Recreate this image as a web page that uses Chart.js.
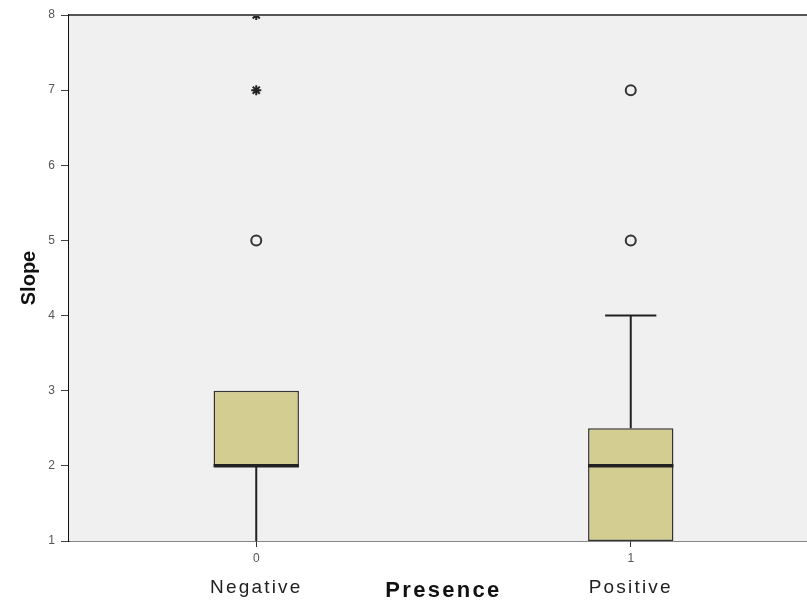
<!DOCTYPE html>
<html>
<head>
<meta charset="utf-8">
<script src="https://cdn.jsdelivr.net/npm/chart.js@4"></script>
<style>
  html, body { margin: 0; padding: 0; background: #fff; overflow: hidden; }
  #wrap { width: 825px; height: 604px; }
</style>
</head>
<body>
<div id="wrap"><canvas id="slopeChart"></canvas></div>
<script>
const categories = ["Negative", "Positive"];
const codes = ["0", "1"];
const q1 = [2, 1];
const median = [2, 2];
const q3 = [3, 2.5];
const whiskerLow = [1, 1];
const whiskerHigh = [3, 4];
const outliers = [[5], [5, 7]];   // circles
const extremes = [[7, 8], []];    // stars
const yTicks = [1, 2, 3, 4, 5, 6, 7, 8];
const xTitle = "Presence";

const boxColor = "#d3cd91";
const lineColor = "#222";
const fontFamily = "'Liberation Sans', Arial, sans-serif";

function toPoints(groups) {
    const pts = [];
    groups.forEach((vals, i) => vals.forEach(v => pts.push({ x: categories[i], y: v })));
    return pts;
}

const boxPlot = {
    id: "boxPlot",
    beforeDatasetsDraw(chart) {
        const { ctx, chartArea: a } = chart;
        ctx.save();
        ctx.fillStyle = "#f0f0f0";
        ctx.fillRect(a.left, a.top, a.right - a.left, a.bottom - a.top);
        ctx.restore();
    },
    afterDatasetDraw(chart, args) {
        if (args.index !== 0) return;
        const { ctx, scales: { x, y } } = chart;
        const bars = chart.getDatasetMeta(0).data;
        ctx.save();
        ctx.strokeStyle = lineColor;
        categories.forEach((c, i) => {
            const cx = x.getPixelForValue(i);
            const w = bars[i].width;
            const cap = w * 0.3;
            ctx.lineWidth = 2;
            ctx.beginPath();
            ctx.moveTo(cx, y.getPixelForValue(q1[i]));
            ctx.lineTo(cx, y.getPixelForValue(whiskerLow[i]));
            ctx.moveTo(cx, y.getPixelForValue(q3[i]));
            ctx.lineTo(cx, y.getPixelForValue(whiskerHigh[i]));
            if (whiskerHigh[i] > q3[i]) {
                ctx.moveTo(cx - cap, y.getPixelForValue(whiskerHigh[i]));
                ctx.lineTo(cx + cap, y.getPixelForValue(whiskerHigh[i]));
            }
            ctx.stroke();
            ctx.lineWidth = 3.5;
            ctx.beginPath();
            ctx.moveTo(cx - w / 2, y.getPixelForValue(median[i]));
            ctx.lineTo(cx + w / 2, y.getPixelForValue(median[i]));
            ctx.stroke();
        });
        ctx.restore();
    },
    afterDraw(chart) {
        const { ctx, chartArea: a, scales: { x } } = chart;
        ctx.save();
        ctx.strokeStyle = "#555";
        ctx.lineWidth = 2;
        ctx.beginPath();
        ctx.moveTo(a.left, a.top);
        ctx.lineTo(a.right, a.top);
        ctx.stroke();

        // category names and axis title, a bit letter-spaced like the original
        ctx.fillStyle = "#222";
        ctx.textAlign = "center";
        ctx.textBaseline = "middle";
        ctx.font = "19px " + fontFamily;
        ctx.letterSpacing = "2.2px";
        categories.forEach((c, i) => {
            ctx.fillText(c, x.getPixelForValue(i), a.bottom + 47);
        });
        ctx.fillStyle = "#111";
        ctx.font = "bold 22px " + fontFamily;
        ctx.letterSpacing = "2.3px";
        ctx.fillText(xTitle, (a.left + a.right) / 2, a.bottom + 50);
        ctx.restore();
    }
};

new Chart(document.getElementById("slopeChart").getContext("2d"), {
    type: "bar",
    data: {
        labels: categories,
        datasets: [
            {
                data: categories.map((c, i) => [q1[i], q3[i]]),
                backgroundColor: boxColor,
                borderColor: "#333",
                borderWidth: 1.5,
                borderSkipped: false,
                barPercentage: 0.228,
                categoryPercentage: 1
            },
            {
                type: "line",
                data: toPoints(outliers),
                showLine: false,
                pointStyle: "circle",
                pointRadius: 5,
                pointBorderWidth: 2,
                pointBackgroundColor: "rgba(0,0,0,0)",
                pointBorderColor: "#333"
            },
            {
                type: "line",
                data: toPoints(extremes),
                showLine: false,
                pointStyle: "star",
                pointRadius: 5,
                pointBorderWidth: 2,
                pointBorderColor: "#222"
            }
        ]
    },
    plugins: [boxPlot],
    options: {
        responsive: true,
        maintainAspectRatio: false,
        animation: false,
        layout: { padding: { top: 15, right: 0, left: 0, bottom: 0 } },
        plugins: {
            legend: { display: false },
            tooltip: { enabled: false }
        },
        scales: {
            x: {
                grid: { offset: false, drawOnChartArea: false, drawTicks: true, tickLength: 6, color: "#333" },
                border: { display: true, color: "#111", width: 1.5 },
                ticks: {
                    callback: (v, i) => codes[i],
                    color: "#555",
                    font: { size: 12, family: fontFamily },
                    padding: 4,
                    maxRotation: 0
                },
                afterFit: s => { s.height = 63; }
            },
            y: {
                min: 1,
                max: 8,
                afterBuildTicks: s => { s.ticks = yTicks.map(v => ({ value: v })); },
                grid: { drawOnChartArea: false, drawTicks: true, tickLength: 8, color: "#444" },
                border: { display: true, color: "#111", width: 1.5 },
                ticks: {
                    color: "#555",
                    font: { size: 12, family: fontFamily },
                    padding: 6
                },
                title: {
                    display: true,
                    text: "Slope",
                    color: "#111",
                    font: { size: 20, weight: "bold", family: fontFamily },
                    padding: { top: 17, bottom: 0 }
                },
                afterFit: s => { s.width = 69; }
            }
        }
    }
});
</script>
</body>
</html>
